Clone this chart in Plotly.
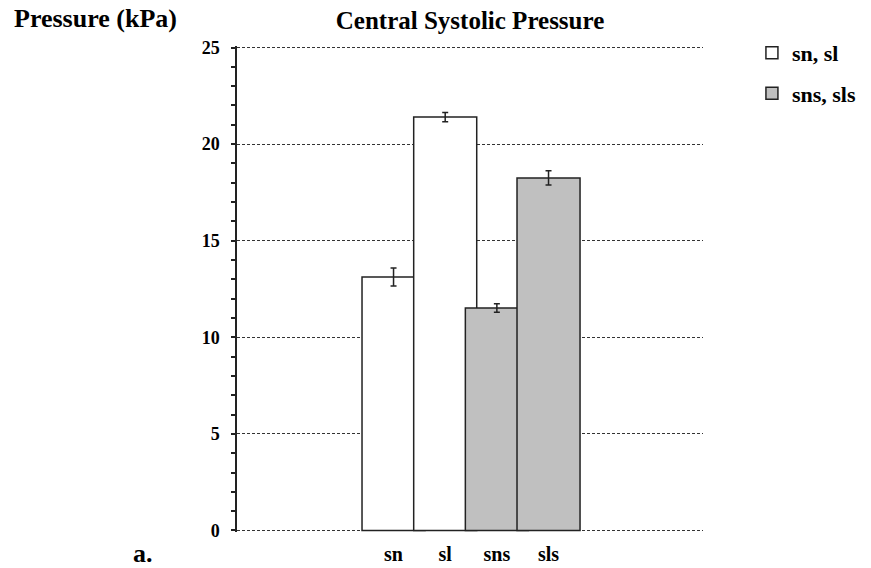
import plotly.graph_objects as go

categories = ["sn", "sl", "sns", "sls"]
group1_cats = ["sn", "sl"]
group1_vals = [13.12, 21.4]
group1_err = [0.47, 0.24]
group2_cats = ["sns", "sls"]
group2_vals = [11.52, 18.25]
group2_err = [0.22, 0.37]
y_ticks = [0, 5, 10, 15, 20, 25]

FONT = "Liberation Serif, Times New Roman, serif"

fig = go.Figure()
fig.add_trace(go.Bar(
    x=group1_cats, y=group1_vals, name="<b>sn, sl</b>", width=1.22, legendgroup="g1",
    marker=dict(color="white", line=dict(color="#222", width=1.5)),
    error_y=dict(type="data", array=group1_err, color="#222", thickness=1.5, width=3),
))
fig.add_trace(go.Bar(
    x=group2_cats, y=group2_vals, name="<b>sns, sls</b>", width=1.22, legendgroup="g2",
    marker=dict(color="#c0c0c0", line=dict(color="#222", width=1.5)),
    error_y=dict(type="data", array=group2_err, color="#222", thickness=1.5, width=3),
))

fig.update_layout(
    width=871, height=568,
    margin=dict(l=237, r=168, t=46, b=36, autoexpand=False),
    paper_bgcolor="white", plot_bgcolor="white",
    barmode="overlay",
    font=dict(family=FONT, color="black"),
    showlegend=True,
    legend=dict(x=1.105, y=1.029, xanchor="left", yanchor="top",
                font=dict(family=FONT, size=22, color="black"),
                tracegroupgap=9, bgcolor="rgba(0,0,0,0)"),
    title=dict(text="<b>Central Systolic Pressure</b>", x=0.5, xref="paper",
               xanchor="center", y=0.965, yanchor="middle",
               font=dict(family=FONT, size=25, color="black")),
    xaxis=dict(type="category", categoryorder="array", categoryarray=categories,
               range=[-3.03, 5.99], showline=False, showgrid=False, ticks="",
               tickfont=dict(family=FONT, size=20, color="black"),
               tickvals=categories, ticktext=["<b>" + c + "</b>" for c in categories],
               ticklabelstandoff=8, automargin=False),
    yaxis=dict(range=[-0.08, 25.08], tickvals=y_ticks,
               ticktext=["<b>%d</b>" % v for v in y_ticks],
               showline=True, linecolor="#222", linewidth=1.5,
               ticks="outside", ticklen=4, tickcolor="#222", tickwidth=1.5,
               showgrid=True, gridcolor="#333", griddash="3px,2px", gridwidth=1,
               zeroline=False, automargin=False,
               minor=dict(dtick=1, ticks="outside", ticklen=4, tickcolor="#222",
                          tickwidth=1.5, showgrid=False),
               tickfont=dict(family=FONT, size=18, color="black"), ticklabelstandoff=8),
    annotations=[
        dict(text="<b>Pressure (kPa)</b>", xref="paper", yref="paper", x=-0.483, y=1.056,
             xanchor="left", yanchor="middle", showarrow=False,
             font=dict(family=FONT, size=26, color="black")),
        dict(text="<b>a.</b>", xref="paper", yref="paper", x=-0.228, y=-0.045,
             xanchor="left", yanchor="middle", showarrow=False,
             font=dict(family=FONT, size=26, color="black")),
    ],
)

fig.write_html("out.html")
